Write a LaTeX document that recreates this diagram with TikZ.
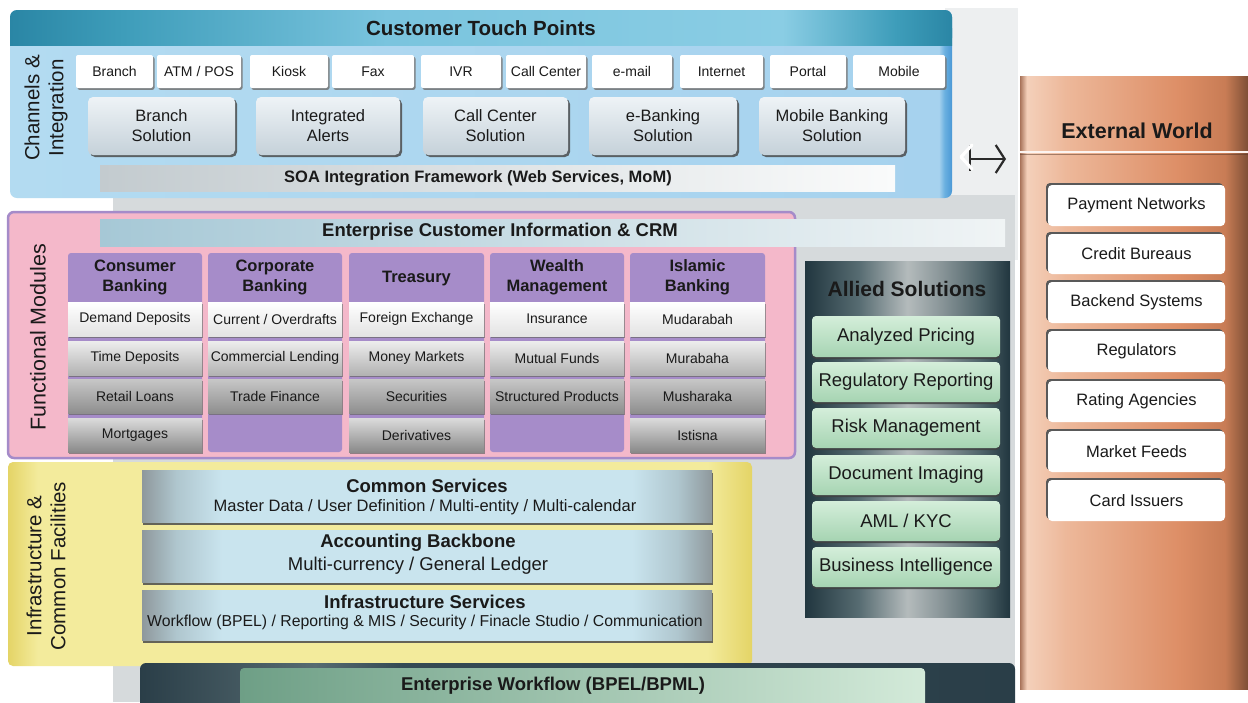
\documentclass[tikz,border=0pt]{standalone}
\usepackage{fontspec}
\setmainfont{Liberation Sans}
\usetikzlibrary{shadows,arrows.meta}

\definecolor{txt}{HTML}{1A1A1A}
\definecolor{bgGray}{HTML}{D6DADC}
\definecolor{bgLight}{HTML}{EDEFF0}
\definecolor{tealA}{HTML}{2A86A5}
\definecolor{tealB}{HTML}{3E9DBA}
\definecolor{tealC}{HTML}{7AC4DE}
\definecolor{tealD}{HTML}{8ACDE4}
\definecolor{blueA}{HTML}{B3DBF1}
\definecolor{blueB}{HTML}{A6D2EE}
\definecolor{blueC}{HTML}{6AB0E0}
\definecolor{blueD}{HTML}{4A98D6}
\definecolor{solTop}{HTML}{EEF3F6}
\definecolor{solBot}{HTML}{C5D1D9}
\definecolor{soaL}{HTML}{C3CBCF}
\definecolor{soaR}{HTML}{FAFBFB}
\definecolor{pinkF}{HTML}{F4B8CA}
\definecolor{purpE}{HTML}{A58BC9}
\definecolor{colP}{HTML}{A68CC9}
\definecolor{crmL}{HTML}{A6C8D6}
\definecolor{crmR}{HTML}{F0F4F5}
\definecolor{alA}{HTML}{21363F}
\definecolor{alB}{HTML}{566B71}
\definecolor{alC}{HTML}{B4BBBC}
\definecolor{alD}{HTML}{8A9699}
\definecolor{alE}{HTML}{4E6369}
\definecolor{grT}{HTML}{D4EEDA}
\definecolor{grB}{HTML}{A6D4B2}
\definecolor{cuA}{HTML}{A8735A}
\definecolor{cuB}{HTML}{F4D0BA}
\definecolor{cuC}{HTML}{EDB89A}
\definecolor{cuD}{HTML}{DD8E66}
\definecolor{cuE}{HTML}{C87C55}
\definecolor{cuF}{HTML}{7E4F36}
\definecolor{yeA}{HTML}{E4D466}
\definecolor{yeB}{HTML}{F3EB9C}
\definecolor{svA}{HTML}{8E989C}
\definecolor{svB}{HTML}{AFC6CE}
\definecolor{svC}{HTML}{C9E4EE}
\definecolor{wfA}{HTML}{2A3E48}
\definecolor{wfB}{HTML}{344A54}
\definecolor{wgL}{HTML}{6E9F86}
\definecolor{wgR}{HTML}{D3EAD9}
\definecolor{arr}{HTML}{2A2A2A}

\pgfdeclarehorizontalshading{tealbar}{100bp}{color(0bp)=(tealA); color(25bp)=(tealA); color(31bp)=(tealB); color(45bp)=(tealC); color(66bp)=(tealD); color(72bp)=(tealB); color(75bp)=(tealA); color(100bp)=(tealA)}
\pgfdeclarehorizontalshading{bluebody}{100bp}{color(0bp)=(blueA); color(25bp)=(blueA); color(74.3bp)=(blueB); color(74.6bp)=(blueC); color(75bp)=(blueD); color(100bp)=(blueD)}
\pgfdeclarehorizontalshading{copper}{100bp}{color(0bp)=(cuA); color(25bp)=(cuA); color(26.5bp)=(cuB); color(35bp)=(cuC); color(60bp)=(cuD); color(70bp)=(cuE); color(75bp)=(cuF); color(100bp)=(cuF)}
\pgfdeclarehorizontalshading{allied}{100bp}{color(0bp)=(alA); color(25bp)=(alA); color(38bp)=(alB); color(50bp)=(alC); color(58bp)=(alD); color(68bp)=(alE); color(75bp)=(alA); color(100bp)=(alA)}
\pgfdeclarehorizontalshading{svc}{100bp}{color(0bp)=(svA); color(25bp)=(svA); color(28bp)=(svB); color(32bp)=(svC); color(68bp)=(svC); color(72bp)=(svB); color(75bp)=(svA); color(100bp)=(svA)}
\pgfdeclarehorizontalshading{yellowbox}{100bp}{color(0bp)=(yeA); color(25bp)=(yeA); color(27bp)=(yeB); color(72bp)=(yeB); color(75bp)=(yeA); color(100bp)=(yeA)}
\pgfdeclarehorizontalshading{wfdark}{100bp}{color(0bp)=(wfA); color(25bp)=(wfA); color(35bp)=(alB); color(40bp)=(wfB); color(75bp)=(wfA); color(100bp)=(wfA)}

\newcommand{\mybox}[7]{\node[#1,minimum width={((#5)-(#3))*1pt},minimum height={((#6)-(#4))*1pt}] (#2) at ({((#3)+(#5))/2},{((#4)+(#6))/2}) {#7};}

\tikzset{
  chan/.style={fill=white, rounded corners=2pt, inner sep=0pt, text=txt,
    font=\fontsize{14}{16}\selectfont,
    drop shadow={shadow xshift=1.5pt, shadow yshift=-1.8pt, fill=black!55, opacity=0.85}},
  sol/.style={top color=solTop, bottom color=solBot, rounded corners=5pt, inner sep=0pt,
    align=center, text=txt, font=\fontsize{16.5}{20}\selectfont,
    drop shadow={shadow xshift=2pt, shadow yshift=-2pt, fill=black!70, opacity=0.85}},
  soabar/.style={left color=soaL, right color=soaR, inner sep=0pt},
  fmbox/.style={fill=pinkF, draw=purpE, line width=2.5pt, rounded corners=6pt, inner sep=0pt},
  crmbar/.style={left color=crmL, right color=crmR, inner sep=0pt},
  alliedbox/.style={shading=allied, inner sep=0pt},
  extbox/.style={shading=copper, inner sep=0pt},
  infbox/.style={shading=yellowbox, rounded corners=5pt, inner sep=0pt},
  wfbar/.style={left color=wgL, right color=wgR, rounded corners=4pt, inner sep=0pt},
  lbl/.style={inner sep=0pt, text=txt, align=center},
  colbox/.style={fill=colP, rounded corners=3pt, inner sep=0pt},
  colhead/.style={lbl, font=\bfseries\fontsize{16.5}{20}\selectfont},
  itembase/.style={inner sep=0pt, text=txt, font=\fontsize{14}{16}\selectfont,
    drop shadow={shadow xshift=0.8pt, shadow yshift=-1.5pt, fill=black!60, opacity=0.7}},
  itA/.style={itembase, top color=white, bottom color=black!11},
  itB/.style={itembase, top color=black!7, bottom color=black!30},
  itC/.style={itembase, top color=black!22, bottom color=black!44},
  itD/.style={itembase, top color=black!14, bottom color=black!46},
  alitem/.style={top color=grT, bottom color=grB, rounded corners=4pt, inner sep=0pt,
    text=txt, font=\fontsize{18.5}{22}\selectfont,
    drop shadow={shadow xshift=0pt, shadow yshift=-2pt, fill=black!75, opacity=0.8}},
  exitem/.style={fill=white, rounded corners=4pt, inner sep=0pt, text=txt,
    font=\fontsize{16.5}{20}\selectfont,
    drop shadow={shadow xshift=-2pt, shadow yshift=2pt, fill=black!65, opacity=1}},
  svcbox/.style={shading=svc, inner sep=0pt,
    drop shadow={shadow xshift=1pt, shadow yshift=-3pt, fill=black!70, opacity=0.85}},
  svtitle/.style={lbl, font=\bfseries\fontsize{18.5}{22}\selectfont},
  svsub/.style={lbl, font=\fontsize{16.5}{20}\selectfont},
  sidelabel/.style={lbl, rotate=90, font=\fontsize{20.5}{24}\selectfont},
}

\begin{document}
\begin{tikzpicture}[x=1pt,y=-1pt]
\useasboundingbox (0,0) rectangle (1248,702);
\fill[white] (0,0) rectangle (1248,702);
\fill[bgLight] (945,8) rectangle (1018,260);
\fill[bgGray] (113,195) rectangle (1015,702);

% ---------- Channels & Integration ----------
\shade[shading=bluebody, rounded corners=7pt] (10,10) rectangle (952,198);
\shade[shading=tealbar, rounded corners=7pt] (10,10) rectangle (952,45);
\shade[shading=tealbar] (10,28) rectangle (952,45);
\node[lbl, font=\bfseries\fontsize{20.5}{24}\selectfont] (hdr) at (481,28) {Customer Touch Points};
\node[sidelabel] (lblCh) at (46,108) {Channels \&\\Integration};

\mybox{chan}{ch1}{76}{55}{153}{88}{Branch}
\mybox{chan}{ch2}{157}{55}{241}{88}{ATM / POS}
\mybox{chan}{ch3}{250}{55}{328}{88}{Kiosk}
\mybox{chan}{ch4}{332}{55}{414}{88}{Fax}
\mybox{chan}{ch5}{421}{55}{501}{88}{IVR}
\mybox{chan}{ch6}{506}{55}{586}{88}{Call Center}
\mybox{chan}{ch7}{592}{55}{672}{88}{e-mail}
\mybox{chan}{ch8}{680}{55}{763}{88}{Internet}
\mybox{chan}{ch9}{770}{55}{846}{88}{Portal}
\mybox{chan}{ch10}{853}{55}{945}{88}{Mobile}

\mybox{sol}{s1}{88}{97}{235}{155}{Branch\\Solution}
\mybox{sol}{s2}{256}{97}{400}{155}{Integrated\\Alerts}
\mybox{sol}{s3}{423}{97}{568}{155}{Call Center\\Solution}
\mybox{sol}{s4}{589}{97}{737}{155}{e-Banking\\Solution}
\mybox{sol}{s5}{759}{97}{905}{155}{Mobile Banking\\Solution}

\mybox{soabar}{soa}{100}{165}{895}{191}{}
\node[lbl, font=\bfseries\fontsize{16.5}{20}\selectfont] (soaT) at (478,178) {SOA Integration Framework (Web Services, MoM)};

% ---------- arrow to External World ----------
\coordinate (arL) at (970,159);
\coordinate (arR) at (1006,159);
\draw[arr, line width=2.2pt, -{Straight Barb[length=9pt, width=28pt, line width=2.2pt]}] (arL) -- (arR);
\draw[arr, line width=2.2pt] (970,145) -- (970,171);
\draw[white, line width=3.2pt, line join=round, line cap=round] (972,145) -- (961,157) -- (972,169);

% ---------- Functional Modules ----------
\mybox{fmbox}{fm}{8}{212}{795}{458}{}
\node[sidelabel, font=\fontsize{21.5}{24}\selectfont] (lblFm) at (38,337) {Functional Modules};

\mybox{crmbar}{crm}{100}{219}{1005}{246}{}
\node[lbl, font=\bfseries\fontsize{18.5}{22}\selectfont] (crmT) at (500,232) {Enterprise Customer Information \& CRM};

\mybox{colbox}{c1}{68}{253}{202}{452}{}
\mybox{colbox}{c2}{208}{253}{342}{452}{}
\mybox{colbox}{c3}{349}{253}{484}{452}{}
\mybox{colbox}{c4}{490}{253}{624}{452}{}
\mybox{colbox}{c5}{630}{253}{765}{452}{}

\node[colhead] (h1) at (135,277) {Consumer\\Banking};
\node[colhead] (h2) at (275,277) {Corporate\\Banking};
\node[colhead] (h3) at (416.5,279) {Treasury};
\node[colhead] (h4) at (557,277) {Wealth\\Management};
\node[colhead] (h5) at (697.5,277) {Islamic\\Banking};

\mybox{itA}{i11}{68}{302}{202}{336}{Demand Deposits}
\mybox{itB}{i12}{68}{341}{202}{375}{Time Deposits}
\mybox{itC}{i13}{68}{379}{202}{413}{Retail Loans}
\mybox{itD}{i14}{68}{418}{202}{452}{Mortgages}

\mybox{itA}{i21}{208}{302}{342}{336}{Current / Overdrafts}
\mybox{itB}{i22}{208}{341}{342}{375}{Commercial Lending}
\mybox{itC}{i23}{208}{379}{342}{413}{Trade Finance}

\mybox{itA}{i31}{349}{302}{484}{336}{Foreign Exchange}
\mybox{itB}{i32}{349}{341}{484}{375}{Money Markets}
\mybox{itC}{i33}{349}{379}{484}{413}{Securities}
\mybox{itD}{i34}{349}{418}{484}{452}{Derivatives}

\mybox{itA}{i41}{490}{302}{624}{336}{Insurance}
\mybox{itB}{i42}{490}{341}{624}{375}{Mutual Funds}
\mybox{itC}{i43}{490}{379}{624}{413}{Structured Products}

\mybox{itA}{i51}{630}{302}{765}{336}{Mudarabah}
\mybox{itB}{i52}{630}{341}{765}{375}{Murabaha}
\mybox{itC}{i53}{630}{379}{765}{413}{Musharaka}
\mybox{itD}{i54}{630}{418}{765}{452}{Istisna}

% ---------- Allied Solutions ----------
\mybox{alliedbox}{al}{805}{261}{1010}{617}{}
\node[lbl, font=\bfseries\fontsize{21}{24}\selectfont] (alT) at (907,289) {Allied Solutions};
\mybox{alitem}{a1}{812}{316}{1000}{357}{Analyzed Pricing}
\mybox{alitem}{a2}{812}{362}{1000}{402}{Regulatory Reporting}
\mybox{alitem}{a3}{812}{408}{1000}{448}{Risk Management}
\mybox{alitem}{a4}{812}{455}{1000}{495}{Document Imaging}
\mybox{alitem}{a5}{812}{501}{1000}{541}{AML / KYC}
\mybox{alitem}{a6}{812}{547}{1000}{587}{Business Intelligence}

% ---------- External World ----------
\mybox{extbox}{ew}{1020}{76}{1248}{689}{}
\draw[white!85!cuC, line width=2pt] (1020,152) -- (1248,152);
\draw[cuF!70!black, line width=1pt, opacity=0.5] (1020,154.5) -- (1248,154.5);
\node[lbl, font=\bfseries\fontsize{21.5}{24}\selectfont] (ewT) at (1137,131) {External World};
\mybox{exitem}{e1}{1048}{185}{1225}{226}{Payment Networks}
\mybox{exitem}{e2}{1048}{234}{1225}{274}{Credit Bureaus}
\mybox{exitem}{e3}{1048}{282}{1225}{323}{Backend Systems}
\mybox{exitem}{e4}{1048}{331}{1225}{372}{Regulators}
\mybox{exitem}{e5}{1048}{381}{1225}{422}{Rating Agencies}
\mybox{exitem}{e6}{1048}{431}{1225}{472}{Market Feeds}
\mybox{exitem}{e7}{1048}{480}{1225}{521}{Card Issuers}

% ---------- Infrastructure & Common Facilities ----------
\mybox{infbox}{inf}{8}{462}{752}{666}{}
\node[sidelabel] (lblInf) at (46,566) {Infrastructure \&\\Common Facilities};

\mybox{svcbox}{sv1}{142}{470}{712}{522}{}
\node[svtitle] (sv1t) at (427,486) {Common Services};
\node[svsub] (sv1s) at (425,507) {Master Data / User Definition / Multi-entity / Multi-calendar};
\mybox{svcbox}{sv2}{142}{530}{712}{582}{}
\node[svtitle] (sv2t) at (418,543) {Accounting Backbone};
\node[svsub, font=\fontsize{18.5}{22}\selectfont] (sv2s) at (418,566) {Multi-currency / General Ledger};
\mybox{svcbox}{sv3}{142}{590}{712}{640}{}
\node[svtitle] (sv3t) at (425,602) {Infrastructure Services};
\node[svsub, font=\fontsize{15.8}{19}\selectfont] (sv3s) at (425,622) {Workflow (BPEL) / Reporting \& MIS / Security / Finacle Studio / Communication};

% ---------- Enterprise Workflow ----------
\shade[shading=wfdark, rounded corners=6pt] (140,663) rectangle (1015,712);
\mybox{wfbar}{wf}{240}{668}{925}{708}{}
\node[lbl, font=\bfseries\fontsize{18.5}{22}\selectfont] (wfT) at (553,686) {Enterprise Workflow (BPEL/BPML)};
\end{tikzpicture}
\end{document}
